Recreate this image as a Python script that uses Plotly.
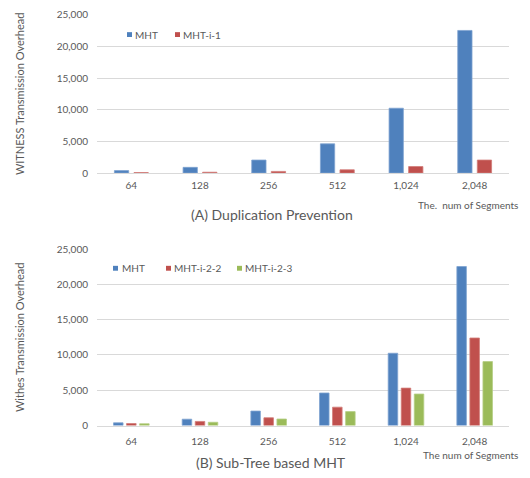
import plotly.graph_objects as go

W, H = 530, 478

categories = ["64", "128", "256", "512", "1,024", "2,048"]

# Chart A: Duplication Prevention
a_mht = [384, 896, 2048, 4608, 10240, 22528]
a_mht_i1 = [64, 128, 256, 512, 1024, 2048]

# Chart B: Sub-Tree based MHT
b_mht = [384, 896, 2048, 4608, 10240, 22528]
b_mht_i22 = [280, 580, 1100, 2600, 5300, 12400]
b_mht_i23 = [250, 460, 920, 1970, 4460, 9060]

y_ticks = [0, 5000, 10000, 15000, 20000, 25000]
y_ticktext = ["0", "5,000", "10,000", "15,000", "20,000", "25,000"]

BLUE, RED, GREEN = "#4F81BD", "#C0504D", "#9BBB59"
EDGE = {BLUE: "#7FA3D0", RED: "#D27C79", GREEN: "#B5CE85"}
FONT = "Lato"
GRAY = "#595959"

def px_x(p):
    return p / W

def px_y(p):
    return 1 - p / H

fig = go.Figure()

series_a = [("MHT", a_mht, BLUE), ("MHT-i-1", a_mht_i1, RED)]
series_b = [("MHT", b_mht, BLUE), ("MHT-i-2-2", b_mht_i22, RED), ("MHT-i-2-3", b_mht_i23, GREEN)]

for name, vals, col in series_a:
    fig.add_trace(go.Bar(x=categories, y=vals, name=name, marker_color=col,
                         marker_line=dict(color=EDGE[col], width=0.8),
                         xaxis="x", yaxis="y", offsetgroup=name + "a", showlegend=False))
for name, vals, col in series_b:
    fig.add_trace(go.Bar(x=categories, y=vals, name=name, marker_color=col,
                         marker_line=dict(color=EDGE[col], width=0.8),
                         xaxis="x2", yaxis="y2", offsetgroup=name + "b", showlegend=False))

xdom = [px_x(97), px_x(509)]
common_x = dict(type="category", showgrid=False, showline=True, linecolor="#D9D9D9",
                linewidth=1, ticks="", tickfont=dict(family=FONT, size=10, color=GRAY),
                fixedrange=True)
common_y = dict(range=[0, 25000], tickvals=y_ticks, ticktext=y_ticktext, showgrid=True,
                gridcolor="#D9D9D9", gridwidth=1, zeroline=False, showline=False, ticks="",
                tickfont=dict(family=FONT, size=10, color=GRAY), ticklabelstandoff=8,
                fixedrange=True)

fig.update_layout(
    width=W, height=H, margin=dict(l=0, r=0, t=0, b=0),
    paper_bgcolor="white", plot_bgcolor="white",
    barmode="group", bargap=0.43, bargroupgap=0.27,
    showlegend=False,
    xaxis=dict(domain=xdom, anchor="y", ticklabelstandoff=3, **common_x),
    yaxis=dict(domain=[px_y(170.3), px_y(8)], anchor="x",
               title=dict(text="WITNESS Transmission Overhead", standoff=29,
                          font=dict(family=FONT, size=11, color=GRAY)), **common_y),
    xaxis2=dict(domain=xdom, anchor="y2", ticklabelstandoff=6, **common_x),
    yaxis2=dict(domain=[px_y(429.3), px_y(248.3)], anchor="x2",
                title=dict(text="Withes Transmission Overhead", standoff=29,
                           font=dict(family=FONT, size=11, color=GRAY)), **common_y),
)

annotations = []
shapes = []

# Custom legends (layout only)
legend_a_pos = [(127, 133), (175, 181)]
legend_b_pos = [(113, 120), (166, 172), (237, 243)]
for (name, _, col), (mx, tx) in zip(series_a, legend_a_pos):
    shapes.append(dict(type="rect", xref="paper", yref="paper", x0=px_x(mx), x1=px_x(mx + 5),
                       y0=px_y(30.8), y1=px_y(25.8), fillcolor=col, line=dict(width=0)))
    annotations.append(dict(text=name, xref="paper", yref="paper", x=px_x(tx), y=px_y(28.3),
                            xanchor="left", yanchor="middle", showarrow=False,
                            font=dict(family=FONT, size=10, color=GRAY)))
for (name, _, col), (mx, tx) in zip(series_b, legend_b_pos):
    shapes.append(dict(type="rect", xref="paper", yref="paper", x0=px_x(mx), x1=px_x(mx + 5),
                       y0=px_y(270.5), y1=px_y(265.5), fillcolor=col, line=dict(width=0)))
    annotations.append(dict(text=name, xref="paper", yref="paper", x=px_x(tx), y=px_y(268),
                            xanchor="left", yanchor="middle", showarrow=False,
                            font=dict(family=FONT, size=10, color=GRAY)))

annotations += [
    dict(text="(A) Duplication Prevention", xref="paper", yref="paper", x=px_x(272), y=px_y(213),
         xanchor="center", yanchor="middle", showarrow=False,
         font=dict(family=FONT, size=14, color=GRAY)),
    dict(text="(B) Sub-Tree based MHT", xref="paper", yref="paper", x=px_x(271), y=px_y(467),
         xanchor="center", yanchor="middle", showarrow=False,
         font=dict(family=FONT, size=14, color=GRAY)),
    dict(text="The.  num of Segments", xref="paper", yref="paper", x=px_x(520), y=px_y(203),
         xanchor="right", yanchor="middle", showarrow=False,
         font=dict(family=FONT, size=10, color=GRAY)),
    dict(text="The num of Segments", xref="paper", yref="paper", x=px_x(520), y=px_y(460),
         xanchor="right", yanchor="middle", showarrow=False,
         font=dict(family=FONT, size=10, color=GRAY)),
]

fig.update_layout(annotations=annotations, shapes=shapes)

fig.write_html("out.html")
